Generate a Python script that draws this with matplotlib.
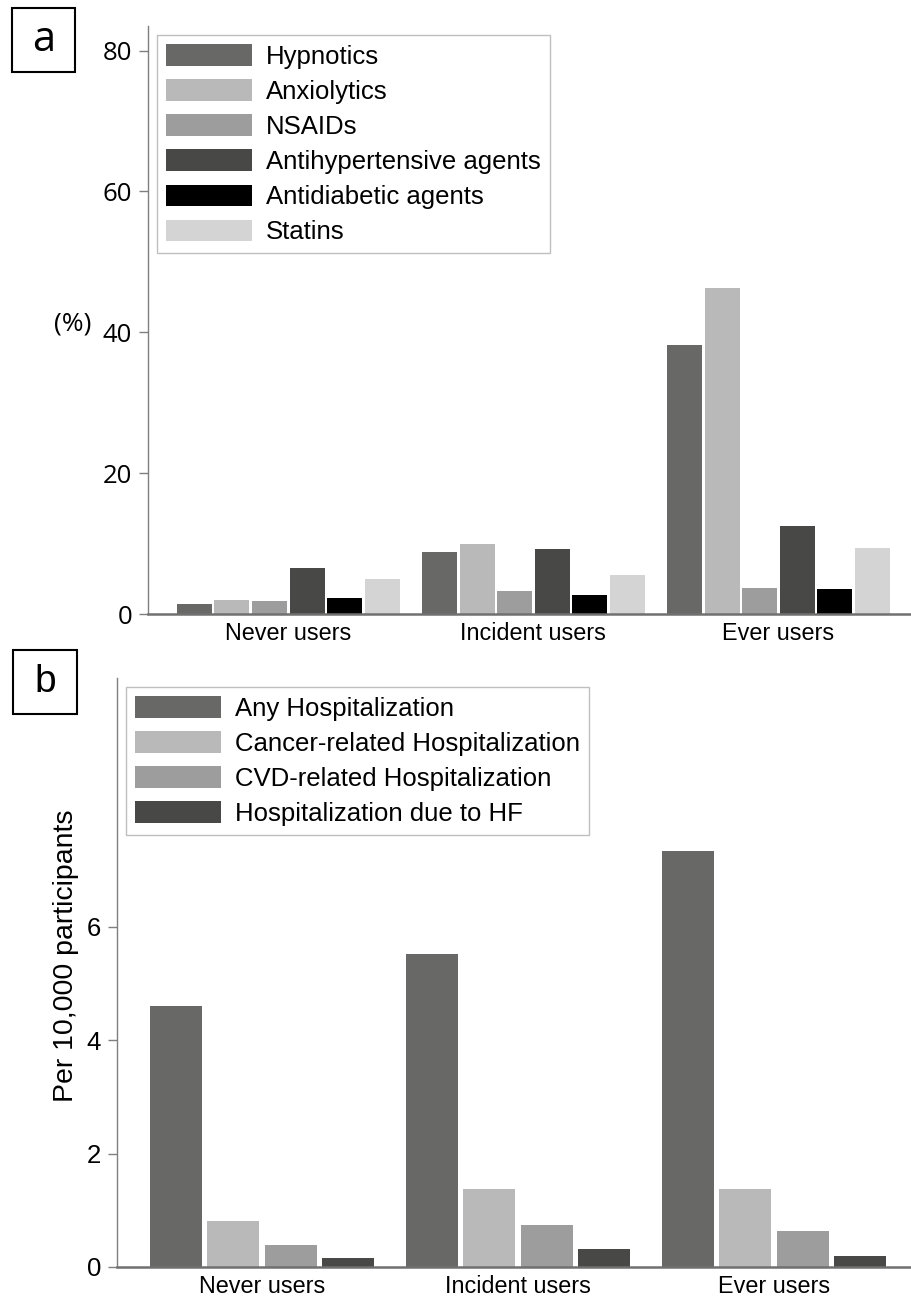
import matplotlib
matplotlib.use('Agg')
import numpy as np
import matplotlib.pyplot as plt
from matplotlib.patches import Rectangle

# Data
groups = ['Never users', 'Incident users', 'Ever users']

drugs = ['Hypnotics', 'Anxiolytics', 'NSAIDs', 'Antihypertensive agents',
         'Antidiabetic agents', 'Statins']
hypnotics = [1.37, 8.75, 38.25]
anxiolytics = [1.94, 10.0, 46.3]
nsaids = [1.8, 3.2, 3.74]
antihypertensive = [6.6, 9.3, 12.5]
antidiabetic = [2.22, 2.65, 3.6]
statins = [4.92, 5.5, 9.4]
drug_values = [hypnotics, anxiolytics, nsaids, antihypertensive, antidiabetic, statins]
drug_colors = ['#686866', '#b8b9b8', '#9c9d9c', '#484846', '#000000', '#d3d4d3']

outcomes = ['Any Hospitalization', 'Cancer-related Hospitalization',
            'CVD-related Hospitalization', 'Hospitalization due to HF']
any_hosp = [4.60, 5.52, 7.34]
cancer_hosp = [0.82, 1.37, 1.37]
cvd_hosp = [0.38, 0.74, 0.63]
hf_hosp = [0.15, 0.31, 0.19]
outcome_values = [any_hosp, cancer_hosp, cvd_hosp, hf_hosp]
outcome_colors = ['#686866', '#b8b9b8', '#9c9d9c', '#484846']

plt.rcParams['font.family'] = ['Liberation Sans', 'DejaVu Sans']

W, H = 912, 1297
fig = plt.figure(figsize=(W / 100, H / 100), dpi=100)


def fx(px):
    return px / W


def fy(py):
    return 1 - py / H


def style_axes(ax):
    for s in ['top', 'right']:
        ax.spines[s].set_visible(False)
    ax.spines['left'].set_color('#7f7f7f')
    ax.spines['left'].set_linewidth(1.0)
    ax.spines['bottom'].set_color('#707070')
    ax.spines['bottom'].set_linewidth(1.8)
    ax.tick_params(axis='y', direction='out', length=6.5, width=1.0,
                   color='#7f7f7f', pad=5)
    ax.tick_params(axis='x', length=0, pad=6, labelsize=16.8)


legend_kw = dict(borderaxespad=0, fontsize=18.5, handlelength=3.35,
                 handleheight=0.9, handletextpad=0.52, labelspacing=0.41,
                 borderpad=0.36, fancybox=False, edgecolor='#bfbfbf',
                 framealpha=1)

# ---- panel a ----
ax1 = fig.add_axes([fx(148), fy(614), 1 - fx(148), fy(26) - fy(614)])
x = np.arange(len(groups))
pitch_a = 37.6 / 245
width_a = 35 / 245
for i, (name, vals, col) in enumerate(zip(drugs, drug_values, drug_colors)):
    ax1.bar(x + (i - 2.5) * pitch_a, vals, width_a, color=col, label=name)
ax1.set_xlim(-0.573, 2.545)
ax1.set_ylim(0, 83.5)
ax1.set_yticks([0, 20, 40, 60, 80])
ax1.set_xticks(x)
ax1.set_xticklabels(groups)
style_axes(ax1)
for lbl in ax1.get_yticklabels():
    lbl.set_fontfamily('Open Sans')
    lbl.set_fontsize(18.5)
leg1 = ax1.legend(loc='upper left', bbox_to_anchor=(fx(157), fy(35)),
                  bbox_transform=fig.transFigure, **legend_kw)
leg1.get_frame().set_linewidth(1.0)
fig.text(fx(73), fy(324), '(%)', fontsize=19, family='Open Sans',
         ha='center', va='center')

# ---- panel b ----
ax2 = fig.add_axes([fx(117), fy(1267), 1 - fx(117), fy(678) - fy(1267)])
pitch_b = 57.5 / 256
width_b = 52 / 256
for i, (name, vals, col) in enumerate(zip(outcomes, outcome_values, outcome_colors)):
    ax2.bar(x + (i - 1.5) * pitch_b, vals, width_b, color=col, label=name)
ax2.set_xlim(-0.566, 2.539)
ax2.set_ylim(0, 10.39)
ax2.set_yticks([0, 2, 4, 6])
ax2.set_xticks(x)
ax2.set_xticklabels(groups)
style_axes(ax2)
ax2.tick_params(axis='y', labelsize=18.5)
leg2 = ax2.legend(loc='upper left', bbox_to_anchor=(fx(126), fy(687)),
                  bbox_transform=fig.transFigure, **legend_kw)
leg2.get_frame().set_linewidth(1.0)
fig.text(fx(66), fy(956), 'Per 10,000 participants', fontsize=20.5,
         rotation=90, ha='center', va='center')

# ---- panel letters in boxes ----
for (l, t, r, b), letter, fam, size in [((12, 8, 75, 72), 'a', 'Open Sans', 30),
                                         ((13, 650, 77, 714), 'b', 'Liberation Sans', 28)]:
    fig.patches.append(Rectangle((fx(l), fy(b)), fx(r) - fx(l), fy(t) - fy(b),
                                 transform=fig.transFigure, fill=False,
                                 edgecolor='black', linewidth=1.5))
    fig.text(fx((l + r) / 2), fy((t + b) / 2), letter, fontsize=size,
             family=fam, ha='center', va='center')

fig.savefig('out.png', dpi=100)
